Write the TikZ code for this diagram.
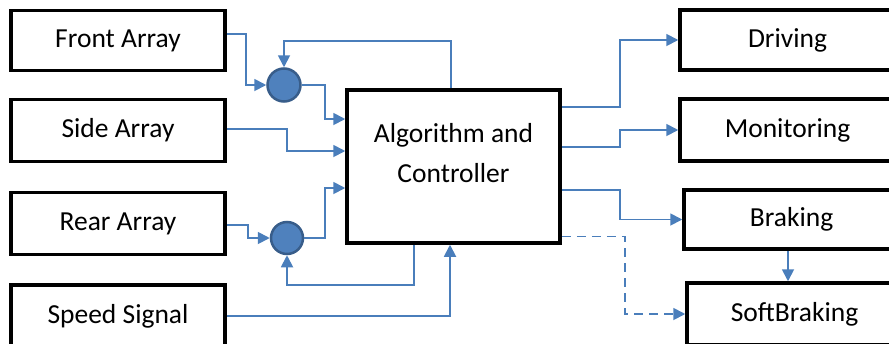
\documentclass[tikz,border=0pt]{standalone}
\usepackage{fontspec}
\setmainfont{Carlito}
\usetikzlibrary{arrows.meta}
\definecolor{lineblue}{RGB}{74,126,187}
\definecolor{circfill}{RGB}{79,129,189}
\definecolor{circdraw}{RGB}{56,93,138}
\tikzset{
  blk/.style={draw=black, line width=3.5pt, fill=white, inner sep=0pt,
    font=\fontsize{27.5}{40}\selectfont, align=center},
  sum/.style={circle, draw=circdraw, line width=2.5pt, fill=circfill, inner sep=0pt},
  conn/.style={draw=lineblue, line width=1.8pt, -{Triangle[length=12pt,width=12pt]}},
  dconn/.style={conn, dash pattern=on 9pt off 6pt}
}
\begin{document}
\begin{tikzpicture}[x=1pt,y=-1pt]
\useasboundingbox (0,0) rectangle (889,343);
\clip (0,0) rectangle (889,343);
% input boxes
\node[blk, minimum width=214pt, minimum height=60pt] (front) at (118,40.5) {Front Array};
\node[blk, minimum width=214pt, minimum height=62pt] (side) at (118,130.5) {Side Array};
\node[blk, minimum width=214pt, minimum height=62pt] (rear) at (118,223.5) {Rear Array};
\node[blk, minimum width=214pt, minimum height=62pt] (speed) at (118,316) {Speed Signal};
% controller
\node[blk, minimum width=213pt, minimum height=153pt,
  label={[font=\fontsize{27.5}{40}\selectfont, align=center, yshift=13pt]center:Algorithm and\\Controller}]
  (ctrl) at (453.5,166.5) {};
% output boxes
\node[blk, minimum width=215pt, minimum height=60pt] (drive) at (787.5,40) {Driving};
\node[blk, minimum width=215pt, minimum height=62pt] (monit) at (787.5,130) {Monitoring};
\node[blk, minimum width=215pt, minimum height=59pt] (brake) at (791.5,219.5) {Braking};
\node[blk, minimum width=215pt, minimum height=62pt] (soft) at (794.5,314) {SoftBraking};
% summing junctions
\node[sum, minimum size=33pt] (c1) at (284,85) {};
\node[sum, minimum size=32pt] (c2) at (287,238) {};
% input connectors
\draw[conn] ([yshift=6.5pt]front.east) -- (246,34) |- (c1.west);
\draw[conn] (c1.east) -- (325,85) |- ([yshift=47.5pt]ctrl.west);
\draw[conn] ([xshift=-2.5pt]ctrl.north) -- (451,41) -| (c1.north);
\draw[conn] ([yshift=1.5pt]side.east) -- (287,129) |- ([yshift=15.5pt]ctrl.west);
\draw[conn] ([yshift=-1.5pt]rear.east) -- (248,225) |- (c2.west);
\draw[conn] (c2.east) -- (325,238) |- ([yshift=-21.5pt]ctrl.west);
\draw[conn] ([xshift=-39.5pt]ctrl.south) -- (414,285) -| (c2.south);
\draw[conn] (speed.east) -| ([xshift=-3.5pt]ctrl.south);
% output connectors
\draw[conn] ([yshift=59.5pt]ctrl.east) -- (620,107) |- (drive.west);
\draw[conn] ([yshift=19.5pt]ctrl.east) -- (620,147) |- (monit.west);
\draw[conn] ([yshift=-23.5pt]ctrl.east) -- (620,190) |- (brake.west);
\draw[dconn] ([yshift=-70pt]ctrl.east) -- (625,236.5) |- (soft.west);
\draw[conn] ([xshift=-3.5pt]brake.south) -- ([xshift=-6.5pt]soft.north);
\end{tikzpicture}
\end{document}
